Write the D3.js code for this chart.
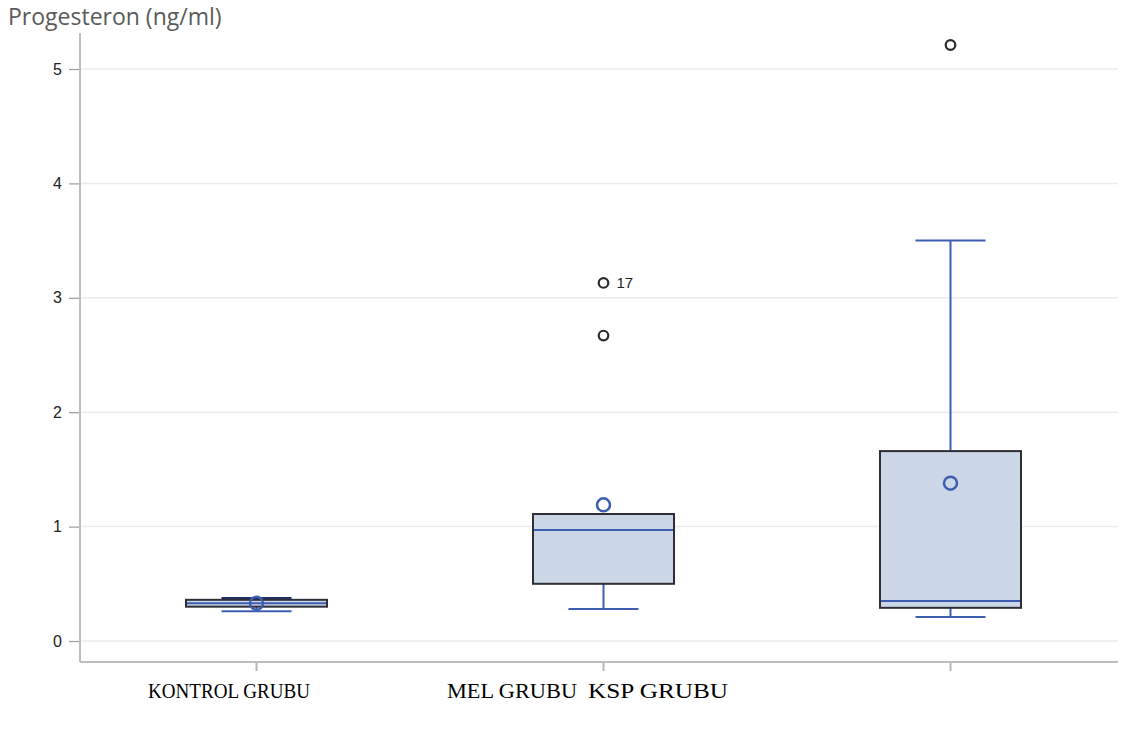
<!DOCTYPE html>
<html>
<head>
<meta charset="utf-8">
<script src="https://cdn.jsdelivr.net/npm/d3@7"></script>
<style>
  html, body { margin: 0; padding: 0; background: #ffffff; }
  svg { display: block; }
</style>
</head>
<body>
<svg id="chart" width="1128" height="729"></svg>
<script>
// Progesterone by group: box statistics
const categories  = ["KONTROL GRUBU", "MEL GRUBU", "KSP GRUBU"];
const whiskerLow  = [0.26, 0.28, 0.21];
const q1          = [0.30, 0.50, 0.29];
const median      = [0.33, 0.97, 0.35];
const q3          = [0.36, 1.11, 1.66];
const whiskerHigh = [0.375, 1.11, 3.50];
const means       = [0.33, 1.19, 1.38];
const outlierGroup = ["MEL GRUBU", "MEL GRUBU", "KSP GRUBU"];
const outlierValue = [3.13, 2.67, 5.21];
const outlierLabel = ["17", "", ""];
const yTicks = [0, 1, 2, 3, 4, 5];

const svg = d3.select("#chart");

const plotLeft = 80, plotRight = 1118, plotBottom = 662, axisTop = 33;

const x = d3.scaleBand().domain(categories).range([83, 1124]).paddingInner(0).paddingOuter(0);
const y = d3.scaleLinear().domain([0, 5]).range([641, 69]);
const cx = c => x(c) + x.bandwidth() / 2;
const boxW = 141, capW = 70;

// horizontal grid lines
svg.append("g")
  .selectAll("line")
  .data(yTicks)
  .join("line")
  .attr("x1", plotLeft).attr("x2", plotRight)
  .attr("y1", d => y(d)).attr("y2", d => y(d))
  .attr("stroke", "#ebebeb").attr("stroke-width", 1.5);

// y axis
const yAxis = d3.axisLeft(y).tickValues(yTicks).tickSize(11).tickPadding(7).tickFormat(d3.format("d"));
const gy = svg.append("g").attr("transform", `translate(${plotLeft},0)`).call(yAxis);
gy.select(".domain").remove();
gy.selectAll(".tick line").attr("stroke", "#9a9a9a").attr("stroke-width", 1.2);
gy.selectAll(".tick text")
  .attr("fill", "#222")
  .style("font-family", "'Liberation Sans', Arial, sans-serif")
  .style("font-size", "16px");
svg.append("line")
  .attr("x1", plotLeft).attr("x2", plotLeft)
  .attr("y1", axisTop).attr("y2", plotBottom)
  .attr("stroke", "#bdbdbd").attr("stroke-width", 2);

// x axis
const xAxis = d3.axisBottom(x).tickSize(9).tickFormat("");
const gx = svg.append("g").attr("transform", `translate(0,${plotBottom})`).call(xAxis);
gx.select(".domain").remove();
gx.selectAll(".tick line").attr("stroke", "#b5b5b5").attr("stroke-width", 2);
svg.append("line")
  .attr("x1", plotLeft).attr("x2", plotRight)
  .attr("y1", plotBottom).attr("y2", plotBottom)
  .attr("stroke", "#bdbdbd").attr("stroke-width", 2);

// y axis title
svg.append("text")
  .attr("x", 8).attr("y", 25)
  .attr("fill", "#5a5a5a")
  .style("font-family", "'Open Sans', 'Noto Sans', sans-serif")
  .style("font-size", "23px")
  .text("Progesteron (ng/ml)");

const blue = "#3d5eb0";
const groups = categories.map((c, i) => ({
  c, lo: whiskerLow[i], q1: q1[i], med: median[i], q3: q3[i], hi: whiskerHigh[i], mean: means[i]
}));

const g = svg.append("g");

// whisker stems
g.selectAll(".stem-lo").data(groups).join("line")
  .attr("x1", d => cx(d.c)).attr("x2", d => cx(d.c))
  .attr("y1", d => y(d.lo)).attr("y2", d => y(d.q1))
  .attr("stroke", blue).attr("stroke-width", 2);
g.selectAll(".stem-hi").data(groups).join("line")
  .attr("x1", d => cx(d.c)).attr("x2", d => cx(d.c))
  .attr("y1", d => y(d.hi)).attr("y2", d => y(d.q3))
  .attr("stroke", blue).attr("stroke-width", 2);

// boxes
g.selectAll("rect").data(groups).join("rect")
  .attr("x", d => cx(d.c) - boxW / 2)
  .attr("width", boxW)
  .attr("y", d => y(d.q3))
  .attr("height", d => y(d.q1) - y(d.q3))
  .attr("fill", "#cbd6e7")
  .attr("stroke", "#2e2e36").attr("stroke-width", 2);

// medians
g.selectAll(".median").data(groups).join("line")
  .attr("x1", d => cx(d.c) - boxW / 2 + 1).attr("x2", d => cx(d.c) + boxW / 2 - 1)
  .attr("y1", d => y(d.med)).attr("y2", d => y(d.med))
  .attr("stroke", blue).attr("stroke-width", 2);

// whisker caps
g.selectAll(".cap-lo").data(groups).join("line")
  .attr("x1", d => cx(d.c) - capW / 2).attr("x2", d => cx(d.c) + capW / 2)
  .attr("y1", d => y(d.lo)).attr("y2", d => y(d.lo))
  .attr("stroke", blue).attr("stroke-width", 2);
g.selectAll(".cap-hi").data(groups.filter(d => d.hi > d.q3)).join("line")
  .attr("x1", d => cx(d.c) - capW / 2).attr("x2", d => cx(d.c) + capW / 2)
  .attr("y1", d => y(d.hi)).attr("y2", d => y(d.hi))
  .attr("stroke", d => d.hi - d.q3 < 0.05 ? "#1f2f66" : blue).attr("stroke-width", 2);

// means
g.selectAll(".mean").data(groups).join("circle")
  .attr("cx", d => cx(d.c)).attr("cy", d => y(d.mean))
  .attr("r", 6.5)
  .attr("fill", "none").attr("stroke", blue).attr("stroke-width", 2.5);

// outliers
const outliers = outlierValue.map((v, i) => ({ c: outlierGroup[i], v, label: outlierLabel[i] }));
g.selectAll(".outlier").data(outliers).join("circle")
  .attr("cx", d => cx(d.c)).attr("cy", d => y(d.v))
  .attr("r", 4.8)
  .attr("fill", "none").attr("stroke", "#2a2a2a").attr("stroke-width", 2.2);
g.selectAll(".outlier-label").data(outliers.filter(d => d.label)).join("text")
  .attr("x", d => cx(d.c) + 13).attr("y", d => y(d.v) + 5)
  .attr("fill", "#222")
  .style("font-family", "'Liberation Sans', Arial, sans-serif")
  .style("font-size", "15px")
  .text(d => d.label);

// group names
const labelX = [148, 447, 588];
const labelW = [162, 130, 140];
svg.append("g").selectAll("text").data(categories).join("text")
  .attr("x", (d, i) => labelX[i]).attr("y", 698)
  .attr("textLength", (d, i) => labelW[i])
  .attr("lengthAdjust", "spacingAndGlyphs")
  .attr("fill", "#000")
  .style("font-family", "'Liberation Serif', 'Times New Roman', serif")
  .style("font-size", "21px")
  .text(d => d);
</script>
</body>
</html>
